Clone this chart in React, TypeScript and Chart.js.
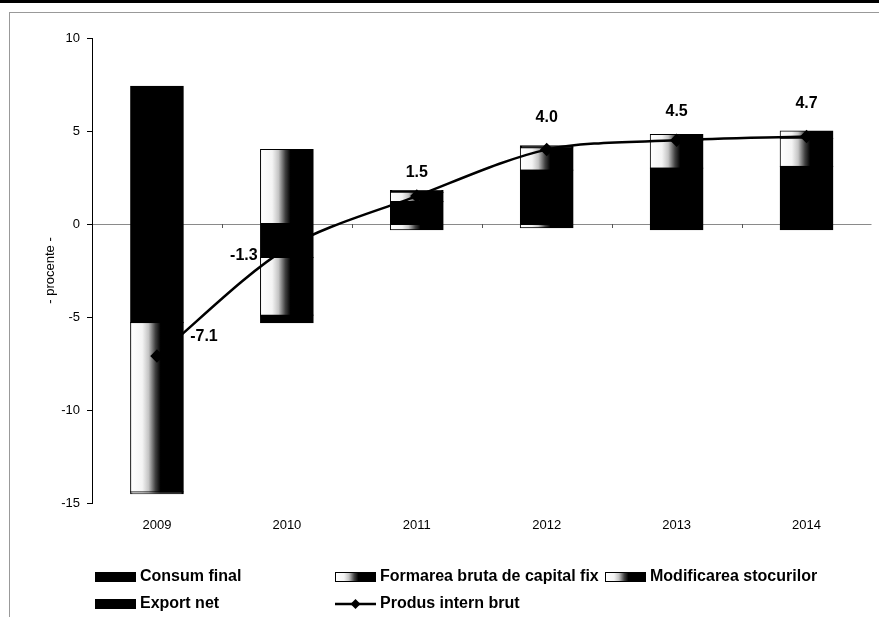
import React, { useEffect, useRef } from 'react';
import { Chart, registerables } from 'chart.js';

Chart.register(...registerables);

// ---- data ----
const YEARS = ['2009', '2010', '2011', '2012', '2013', '2014'];
const CONSUM_FINAL = [-5.3, -1.8, 1.2, 2.9, 3.0, 3.1];
const FORMAREA_BRUTA = [-9.1, -3.1, 0.5, 1.2, 1.5, 1.5];
const MODIFICAREA_STOCURILOR = [-0.1, 4.0, -0.3, -0.2, 0.3, 0.4];
const EXPORT_NET = [7.4, -0.4, 0.1, 0.1, -0.3, -0.3];
const PRODUS_INTERN_BRUT = [-7.1, -1.3, 1.5, 4.0, 4.5, 4.7];
const Y_MIN = -15;
const Y_MAX = 10;
const Y_STEP = 5;

const SERIES_NAMES = [
  'Consum final',
  'Formarea bruta de capital fix',
  'Modificarea stocurilor',
  'Export net',
  'Produs intern brut',
];

// ---- styles ----
const FONT = "'Liberation Sans', Arial, Helvetica, sans-serif";
// label offsets (px) relative to each PIB point
const PIB_LABEL_OFFSET: [number, number][] = [
  [47, -19],
  [-43, 7],
  [0, -24],
  [0, -32],
  [0, -29],
  [0, -33],
];

function makeGradient(ctx: CanvasRenderingContext2D, x0: number, x1: number) {
  const g = ctx.createLinearGradient(x0, 0, x1, 0);
  g.addColorStop(0, '#ffffff');
  g.addColorStop(0.22, '#f4f4f4');
  g.addColorStop(0.34, '#c4c4c4');
  g.addColorStop(0.47, '#404040');
  g.addColorStop(0.57, '#000000');
  g.addColorStop(1, '#000000');
  return g;
}

const gradientPlugin = {
  id: 'barGradient',
  beforeDatasetsDraw(chart: any) {
    const ctx = chart.ctx;
    chart.data.datasets.forEach((ds: any, i: number) => {
      if (!ds.gradientFill) return;
      const meta = chart.getDatasetMeta(i);
      meta.data.forEach((el: any) => {
        const { x, width } = el.getProps(['x', 'width'], true);
        const g = makeGradient(ctx, x - width / 2, x + width / 2);
        el.options = { ...el.options, backgroundColor: g };
      });
    });
  },
};

const extrasPlugin = {
  id: 'extras',
  afterDatasetsDraw(chart: any) {
    const ctx: CanvasRenderingContext2D = chart.ctx;
    const xs = chart.scales.x;
    const ys = chart.scales.y;
    // small ticks on the zero line between categories
    const y0 = ys.getPixelForValue(0);
    const spacing = xs.getPixelForValue(1) - xs.getPixelForValue(0);
    ctx.save();
    ctx.strokeStyle = '#555';
    ctx.lineWidth = 1;
    for (let k = 1; k < YEARS.length; k++) {
      const bx = Math.round(xs.getPixelForValue(k) - spacing / 2) + 0.5;
      ctx.beginPath();
      ctx.moveTo(bx, y0);
      ctx.lineTo(bx, y0 + 4);
      ctx.stroke();
    }
    // PIB labels
    const lineIdx = chart.data.datasets.findIndex((d: any) => d.type === 'line');
    const meta = chart.getDatasetMeta(lineIdx);
    ctx.font = `bold 16px ${FONT}`;
    ctx.fillStyle = '#000';
    ctx.textAlign = 'center';
    ctx.textBaseline = 'middle';
    meta.data.forEach((pt: any, i: number) => {
      const [dx, dy] = PIB_LABEL_OFFSET[i];
      ctx.fillText(PRODUS_INTERN_BRUT[i].toFixed(1), pt.x + dx, pt.y + dy);
    });
    ctx.restore();
  },
  afterDraw(chart: any) {
    const ctx: CanvasRenderingContext2D = chart.ctx;
    const area = chart.chartArea;
    ctx.save();
    // y axis title
    ctx.font = `13px ${FONT}`;
    ctx.fillStyle = '#000';
    ctx.textAlign = 'center';
    ctx.textBaseline = 'middle';
    ctx.translate(50, (area.top + area.bottom) / 2);
    ctx.rotate(-Math.PI / 2);
    ctx.fillText('- procente -', 0, 0);
    ctx.restore();

    // legend
    ctx.save();
    ctx.font = `bold 16px ${FONT}`;
    ctx.textBaseline = 'middle';
    ctx.textAlign = 'left';
    const cols = [95, 335, 605];
    const rows = [577, 604];
    const mw = 41;
    const mh = 10;
    const items = [
      { name: SERIES_NAMES[0], kind: 'solid', col: 0, row: 0 },
      { name: SERIES_NAMES[1], kind: 'grad', col: 1, row: 0 },
      { name: SERIES_NAMES[2], kind: 'grad', col: 2, row: 0 },
      { name: SERIES_NAMES[3], kind: 'solid', col: 0, row: 1 },
      { name: SERIES_NAMES[4], kind: 'line', col: 1, row: 1 },
    ];
    items.forEach((it) => {
      const x = cols[it.col];
      const y = rows[it.row];
      if (it.kind === 'line') {
        ctx.strokeStyle = '#000';
        ctx.lineWidth = 2.5;
        ctx.beginPath();
        ctx.moveTo(x, y);
        ctx.lineTo(x + mw, y);
        ctx.stroke();
        ctx.fillStyle = '#000';
        ctx.beginPath();
        const cx = x + mw / 2;
        ctx.moveTo(cx, y - 5);
        ctx.lineTo(cx + 5, y);
        ctx.lineTo(cx, y + 5);
        ctx.lineTo(cx - 5, y);
        ctx.closePath();
        ctx.fill();
      } else {
        ctx.fillStyle = it.kind === 'grad' ? makeGradient(ctx, x, x + mw) : '#000';
        ctx.fillRect(x, y - mh / 2, mw, mh);
        ctx.strokeStyle = '#000';
        ctx.lineWidth = 1;
        ctx.strokeRect(x + 0.5, y - mh / 2 + 0.5, mw - 1, mh - 1);
      }
      ctx.fillStyle = '#000';
      ctx.fillText(it.name, x + mw + 4, y);
    });
    ctx.restore();
  },
};

export default function App() {
  const ref = useRef<HTMLCanvasElement>(null);

  useEffect(() => {
    const barBase = {
      type: 'bar' as const,
      borderColor: '#000',
      borderWidth: 1,
      borderSkipped: false,
      inflateAmount: 0.6,
      barPercentage: 0.404,
      categoryPercentage: 1,
      order: 0,
    };
    const chart = new Chart(ref.current as HTMLCanvasElement, {
      type: 'bar',
      data: {
        labels: YEARS,
        datasets: [
          { ...barBase, label: SERIES_NAMES[0], data: CONSUM_FINAL, backgroundColor: '#000' },
          { ...barBase, label: SERIES_NAMES[1], data: FORMAREA_BRUTA, backgroundColor: '#777', gradientFill: true },
          { ...barBase, label: SERIES_NAMES[2], data: MODIFICAREA_STOCURILOR, backgroundColor: '#777', gradientFill: true },
          { ...barBase, label: SERIES_NAMES[3], data: EXPORT_NET, backgroundColor: '#000' },
          {
            type: 'line' as const,
            label: SERIES_NAMES[4],
            data: PRODUS_INTERN_BRUT,
            borderColor: '#000',
            backgroundColor: '#000',
            borderWidth: 2.5,
            tension: 0.3,
            pointStyle: 'rectRot',
            pointRadius: 5,
            pointBackgroundColor: '#000',
            pointBorderColor: '#000',
            order: -1,
          },
        ] as any,
      },
      options: {
        animation: false,
        responsive: false,
        layout: { padding: { left: 0, right: 0, top: 38, bottom: 0 } },
        plugins: {
          legend: { display: false },
          tooltip: { enabled: false },
          title: { display: false },
        },
        scales: {
          x: {
            stacked: true,
            grid: { display: false, drawTicks: false },
            border: { display: false },
            ticks: { color: '#000', font: { family: FONT, size: 13 }, padding: 15 },
            afterFit: (s: any) => {
              s.height = 114;
            },
          },
          y: {
            stacked: true,
            min: Y_MIN,
            max: Y_MAX,
            ticks: {
              stepSize: Y_STEP,
              color: '#000',
              font: { family: FONT, size: 13 },
              padding: 7,
            },
            grid: {
              drawOnChartArea: true,
              color: (c: any) => (c.tick && c.tick.value === 0 ? '#8a8a8a' : 'rgba(0,0,0,0)'),
              tickColor: '#000',
              tickLength: 5,
            },
            border: { display: true, color: '#000', width: 1 },
            afterFit: (s: any) => {
              s.width = 92;
            },
          },
        },
      },
      plugins: [gradientPlugin, extrasPlugin],
    } as any);
    return () => chart.destroy();
  }, []);

  return (
    <div
      style={{
        position: 'fixed',
        left: 0,
        top: 0,
        width: 879,
        height: 617,
        background: '#fff',
        overflow: 'hidden',
      }}
    >
      <div style={{ position: 'absolute', left: 0, top: 0, width: 879, height: 3, background: '#000' }} />
      <div
        style={{
          position: 'absolute',
          left: 9,
          top: 12,
          right: 0,
          bottom: 0,
          borderLeft: '1px solid #999',
          borderTop: '1px solid #999',
        }}
      />
      <canvas ref={ref} width={879} height={617} style={{ position: 'absolute', left: 0, top: 0 }} />
    </div>
  );
}
